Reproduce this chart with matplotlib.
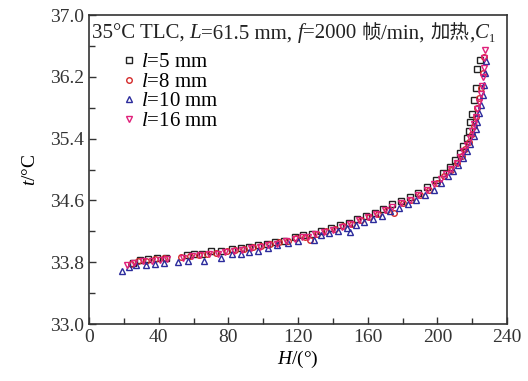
import matplotlib

matplotlib.use("Agg")
import matplotlib.pyplot as plt
from matplotlib.ticker import MultipleLocator, FormatStrFormatter

SERIF = ["Liberation Serif", "Noto Sans CJK SC", "DejaVu Sans"]
plt.rcParams["font.family"] = SERIF
plt.rcParams["mathtext.fontset"] = "custom"
plt.rcParams["mathtext.rm"] = "Liberation Serif"
plt.rcParams["mathtext.it"] = "Liberation Serif:italic"

# (H, t), one list per probe distance l
l5_pts = [(25, 33.79), (29, 33.83), (34, 33.84), (39, 33.86), (44, 33.86), (56, 33.89),
          (60, 33.91), (65, 33.91), (70, 33.94), (76, 33.94), (82, 33.97), (87, 33.99),
          (92, 34.00), (97, 34.02), (102, 34.04), (107, 34.06), (112, 34.08), (118, 34.12),
          (123, 34.15), (128, 34.16), (133, 34.21), (139, 34.24), (144, 34.28), (149, 34.31),
          (154, 34.36), (159, 34.40), (164, 34.44), (169, 34.49), (174, 34.55), (179, 34.59),
          (184, 34.64), (189, 34.70), (194, 34.77), (199, 34.86), (203, 34.95), (207, 35.03),
          (210, 35.12), (213, 35.22), (215, 35.30), (217, 35.41), (218, 35.50), (219, 35.62),
          (220, 35.72), (221, 35.90), (222, 36.05), (223, 36.30), (224.5, 36.42)]
l8_pts = [(24, 33.78), (28, 33.81), (33, 33.82), (38, 33.84), (43, 33.85), (53, 33.87),
          (58, 33.88), (63, 33.89), (68, 33.91), (73, 33.92), (79, 33.94), (84, 33.96),
          (89, 33.97), (94, 34.00), (99, 34.01), (104, 34.03), (109, 34.06), (114, 34.08),
          (119, 34.11), (124, 34.12), (127, 34.09), (131, 34.16), (136, 34.20), (141, 34.23),
          (146, 34.27), (151, 34.30), (156, 34.35), (161, 34.38), (166, 34.43), (171, 34.48),
          (175, 34.44), (180, 34.56), (185, 34.61), (190, 34.67), (195, 34.74), (200, 34.82),
          (204, 34.91), (208, 35.00), (211, 35.08), (214, 35.18), (216, 35.27), (218, 35.36),
          (220, 35.46), (221, 35.56), (222, 35.68), (223, 35.80), (224, 35.92), (225, 36.06),
          (226, 36.25), (227, 36.45)]
l10_pts = [(19, 33.68), (23, 33.74), (27, 33.76), (33, 33.77), (38, 33.78), (43, 33.79),
           (51, 33.80), (57, 33.81), (66, 33.82), (76, 33.85), (82, 33.90), (87, 33.91),
           (92, 33.93), (97, 33.95), (103, 33.98), (108, 34.02), (114, 34.05), (120, 34.08),
           (129, 34.09), (133, 34.15), (138, 34.18), (143, 34.21), (148, 34.24), (150, 34.19),
           (153, 34.28), (158, 34.32), (163, 34.36), (168, 34.40), (173, 34.46), (178, 34.50),
           (183, 34.55), (188, 34.61), (193, 34.67), (198, 34.74), (202, 34.82), (206, 34.91),
           (209, 34.98), (212, 35.06), (215, 35.15), (217, 35.24), (219, 35.33), (221, 35.43),
           (222, 35.52), (223, 35.62), (224, 35.73), (225, 35.84), (226, 35.96), (226.7, 36.10),
           (227.3, 36.25), (227.8, 36.40)]
l16_pts = [(22, 33.76), (26, 33.79), (31, 33.81), (36, 33.82), (41, 33.83), (45, 33.84),
           (54, 33.86), (59, 33.88), (64, 33.89), (69, 33.90), (74, 33.91), (78, 33.93),
           (83, 33.95), (88, 33.96), (93, 33.98), (98, 34.00), (103, 34.02), (108, 34.04),
           (113, 34.07), (118, 34.10), (122, 34.12), (126, 34.13), (130, 34.16), (135, 34.19),
           (140, 34.22), (145, 34.26), (150, 34.30), (155, 34.34), (160, 34.38), (165, 34.42),
           (170, 34.47), (174, 34.51), (179, 34.56), (184, 34.61), (189, 34.67), (194, 34.74),
           (198, 34.81), (202, 34.88), (205, 34.94), (208, 35.01), (211, 35.09), (213, 35.16),
           (215, 35.24), (217, 35.32), (218.5, 35.41), (220, 35.50), (221, 35.59), (222, 35.68),
           (223, 35.78), (224, 35.88), (224.8, 35.98), (225.5, 36.08), (226, 36.20),
           (226.5, 36.32), (227, 36.44), (227.2, 36.55)]

y_major = [33.0, 33.8, 34.6, 35.4, 36.2, 37.0]
y_minor = [33.4, 34.2, 35.0, 35.8, 36.6]

series = [
    (l5_pts, "$l$=5 mm", "s", "#222222"),
    (l8_pts, "$l$=8 mm", "o", "#d42a2a"),
    (l10_pts, "$l$=10 mm", "^", "#2b2b9c"),
    (l16_pts, "$l$=16 mm", "v", "#e0207a"),
]

fig = plt.figure(figsize=(5.28, 3.81), dpi=100)
ax = fig.add_axes([0.1686, 0.1496, 0.7917, 0.811])

for pts, lab, mk, col in series:
    h = [p[0] for p in pts]
    t = [p[1] for p in pts]
    ax.plot(h, t, ls="none", marker=mk, ms=4.0, mfc="none", mec=col, mew=1.0, label=lab)

ax.set_xlim(0, 240)
ax.set_ylim(33.0, 37.0)
ax.xaxis.set_major_locator(MultipleLocator(40))
ax.xaxis.set_minor_locator(MultipleLocator(20))
ax.set_yticks(y_major)
ax.set_yticks(y_minor, minor=True)
ax.yaxis.set_major_formatter(FormatStrFormatter("%.1f"))
ax.tick_params(which="both", direction="in", top=False, right=False, labelsize=14, colors="#333333")
ax.tick_params(which="major", length=5, width=1)
ax.tick_params(which="minor", length=4, width=1)
for sp in ax.spines.values():
    sp.set_linewidth(1.2)
    sp.set_color("#333333")

ax.set_xlabel("$H$/(°)", fontsize=14, labelpad=2)
ax.set_ylabel("$t$/°C", fontsize=14, labelpad=8)

leg = ax.legend(loc="upper left", bbox_to_anchor=(0.06, 0.905), frameon=False, fontsize=15,
                handlelength=0.6, handletextpad=0.3, labelspacing=0.0, borderaxespad=0)

# header line inside the axes, built from pieces so italics and CJK share one baseline
pieces = [("35°C TLC, ", "normal", 15), ("L", "italic", 15), ("=61.5 mm, ", "normal", 15),
          ("f", "italic", 15), ("=2000 ", "normal", 15), ("帧", "cjk", 14),
          ("/min, ", "normal", 15), ("加热", "cjk", 14), (",", "normal", 15),
          ("C", "italic", 15)]
fig.canvas.draw()
renderer = fig.canvas.get_renderer()
x0, y0 = ax.transAxes.transform((0.006, 0.925))
x = x0
for txt, style, size in pieces:
    fam = ["Noto Sans CJK SC"] if style == "cjk" else SERIF
    st = "normal" if style == "cjk" else style
    tt = fig.text(x / fig.dpi / 5.28, y0 / fig.dpi / 3.81, txt, fontsize=size, style=st,
                  family=fam, va="baseline", ha="left", color="#222222")
    x += tt.get_window_extent(renderer).width
fig.text((x + 1) / fig.dpi / 5.28, (y0 - 4) / fig.dpi / 3.81, "1", fontsize=9, va="baseline",
         ha="left", color="#222222")

fig.savefig("out.png", dpi=100)
